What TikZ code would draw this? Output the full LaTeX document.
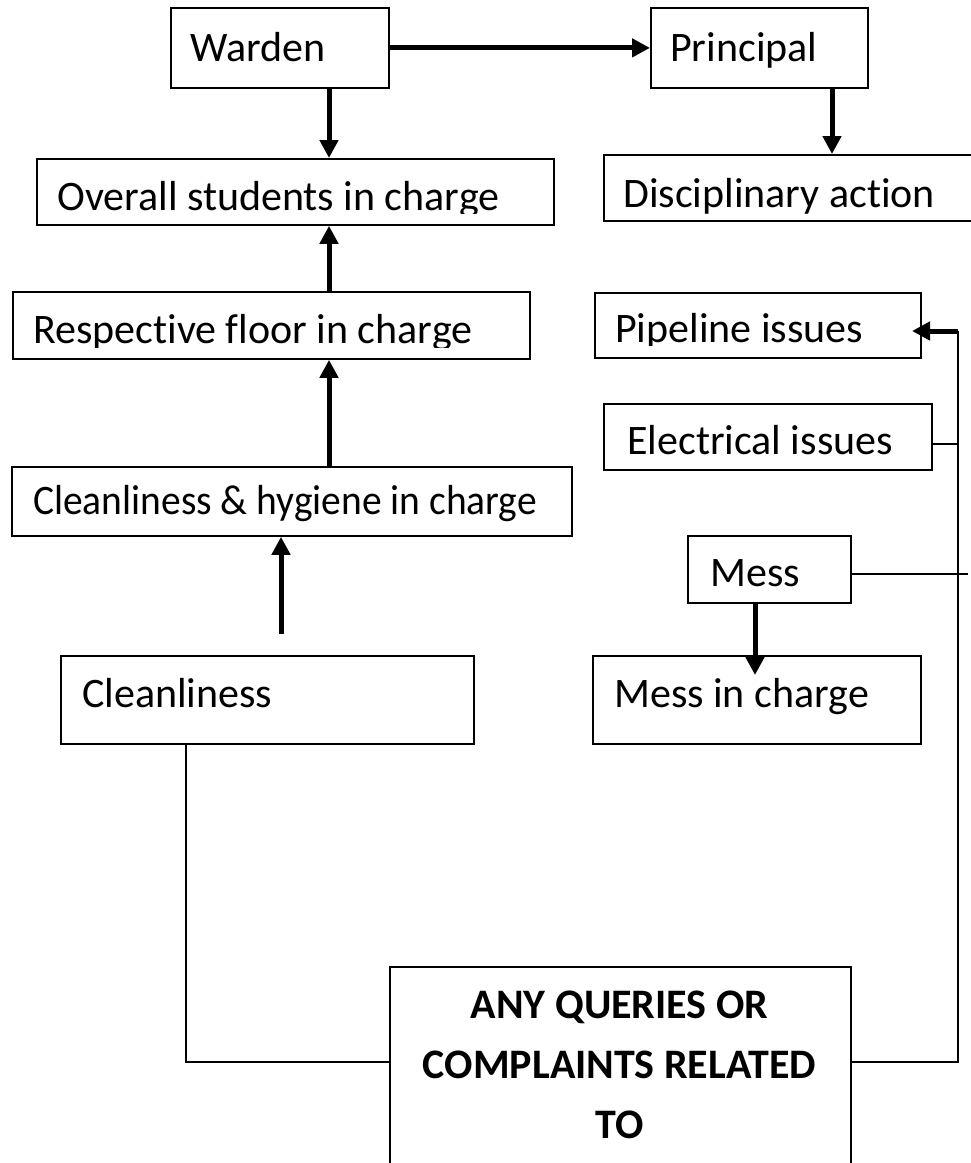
\documentclass[tikz,border=0pt]{standalone}
\usepackage{fontspec}
\usepackage{graphicx}
\setmainfont[Ligatures=NoCommon]{Carlito}
\usetikzlibrary{arrows.meta}
\begin{document}
\begin{tikzpicture}[x=1pt,y=-1pt,
  fbox/.style={draw, line width=1.8pt, inner sep=0pt, anchor=north west},
  lbl/.style={inner sep=0pt, anchor=base west, font=\fontsize{42}{50}\selectfont},
  qlbl/.style={inner sep=0pt, anchor=north, align=center, font=\bfseries\fontsize{42}{60}\selectfont},
  arr/.style={line width=5pt, -{Triangle[width=18pt,length=18pt]}},
  conn/.style={line width=1.8pt}]
\useasboundingbox[fill=white] (0,0) rectangle (971,1163);

% column / row helpers
\coordinate (colA) at (329,0);
\coordinate (colB) at (832,0);
\coordinate (colD) at (755,0);
\coordinate (colE) at (958,0);
\coordinate (colF) at (186,0);
\coordinate (qrow) at (0,1062);
\coordinate (erow) at (0,444);
\coordinate (mrow) at (0,574);

% boxes
\node[fbox, minimum width=218pt, minimum height=80pt] (warden) at (170,7) {};
\node[lbl] (warden-t) at (190,61) {Warden};

\node[fbox, minimum width=217pt, minimum height=80pt] (principal) at (650,7) {};
\node[lbl] (principal-t) at (670,61) {Principal};

\node[fbox, minimum width=517pt, minimum height=66pt] (overall) at (36,158) {};
\begin{scope}
\clip (36,158) rectangle (553,213);
\node[lbl] (overall-t) at (57,210) {Overall students in charge};
\end{scope}

\node[fbox, minimum width=400pt, minimum height=66pt] (disc) at (603,154) {};
\node[lbl] (disc-t) at (623,207) {Disciplinary action};

\node[fbox, minimum width=517pt, minimum height=67pt] (resp) at (12,291) {};
\begin{scope}
\clip (12,291) rectangle (529,347);
\node[lbl] (resp-t) at (33,343) {Respective floor in charge};
\end{scope}

\node[fbox, minimum width=326pt, minimum height=65pt] (pipe) at (594,292) {};
\begin{scope}
\clip (594,292) rectangle (920,345);
\node[lbl] (pipe-t) at (615,342) {Pipeline issues};
\end{scope}

\node[fbox, minimum width=328pt, minimum height=66pt] (elec) at (603,403) {};
\node[lbl] (elec-t) at (627,454) {Electrical issues};

\node[fbox, minimum width=560pt, minimum height=69pt] (ch) at (11,466) {};
\node[lbl] (ch-t) at (33,514) {\scalebox{0.94}[1]{Cleanliness \& hygiene in charge}};

\node[fbox, minimum width=163pt, minimum height=67pt] (mess) at (687,535) {};
\node[lbl] (mess-t) at (710,586) {Mess};

\node[fbox, minimum width=413pt, minimum height=88pt] (clean) at (60,655) {};
\node[lbl] (clean-t) at (82,707) {Cleanliness};

\node[fbox, minimum width=328pt, minimum height=88pt] (messic) at (592,655) {};
\node[lbl] (messic-t) at (614,707) {Mess in charge};

\node[fbox, minimum width=461pt, minimum height=230pt] (query) at (389,966) {};
\node[qlbl] (query-t) at (619.5,991) {ANY QUERIES OR\\COMPLAINTS RELATED\\TO};

% free ends
\coordinate (cstart) at (281,634);
\coordinate (mtip) at (755,675);
\coordinate (pj) at (958,331);
\coordinate (ptip) at (912,331);
\coordinate (mend) at (968,574);

% thick arrows
\draw[arr] (warden.east) -- (principal.west);
\draw[arr] (warden.south -| colA) -- (overall.north -| colA);
\draw[arr] (principal.south -| colB) -- (disc.north -| colB);
\draw[arr] (resp.north -| colA) -- (overall.south -| colA);
\draw[arr] (ch.north -| colA) -- (resp.south -| colA);
\draw[arr] (cstart) -- (ch.south -| cstart);
\draw[arr] (mess.south -| colD) -- (mtip);
\draw[arr] (pj) -- (ptip);

% thin connectors
\draw[conn] (clean.south -| colF) |- (query.west |- qrow);
\draw[conn] (query.east |- qrow) -| (pj);
\draw[conn] (elec.east |- erow) -- (colE |- erow);
\draw[conn] (mess.east |- mrow) -- (mend);
\end{tikzpicture}
\end{document}
